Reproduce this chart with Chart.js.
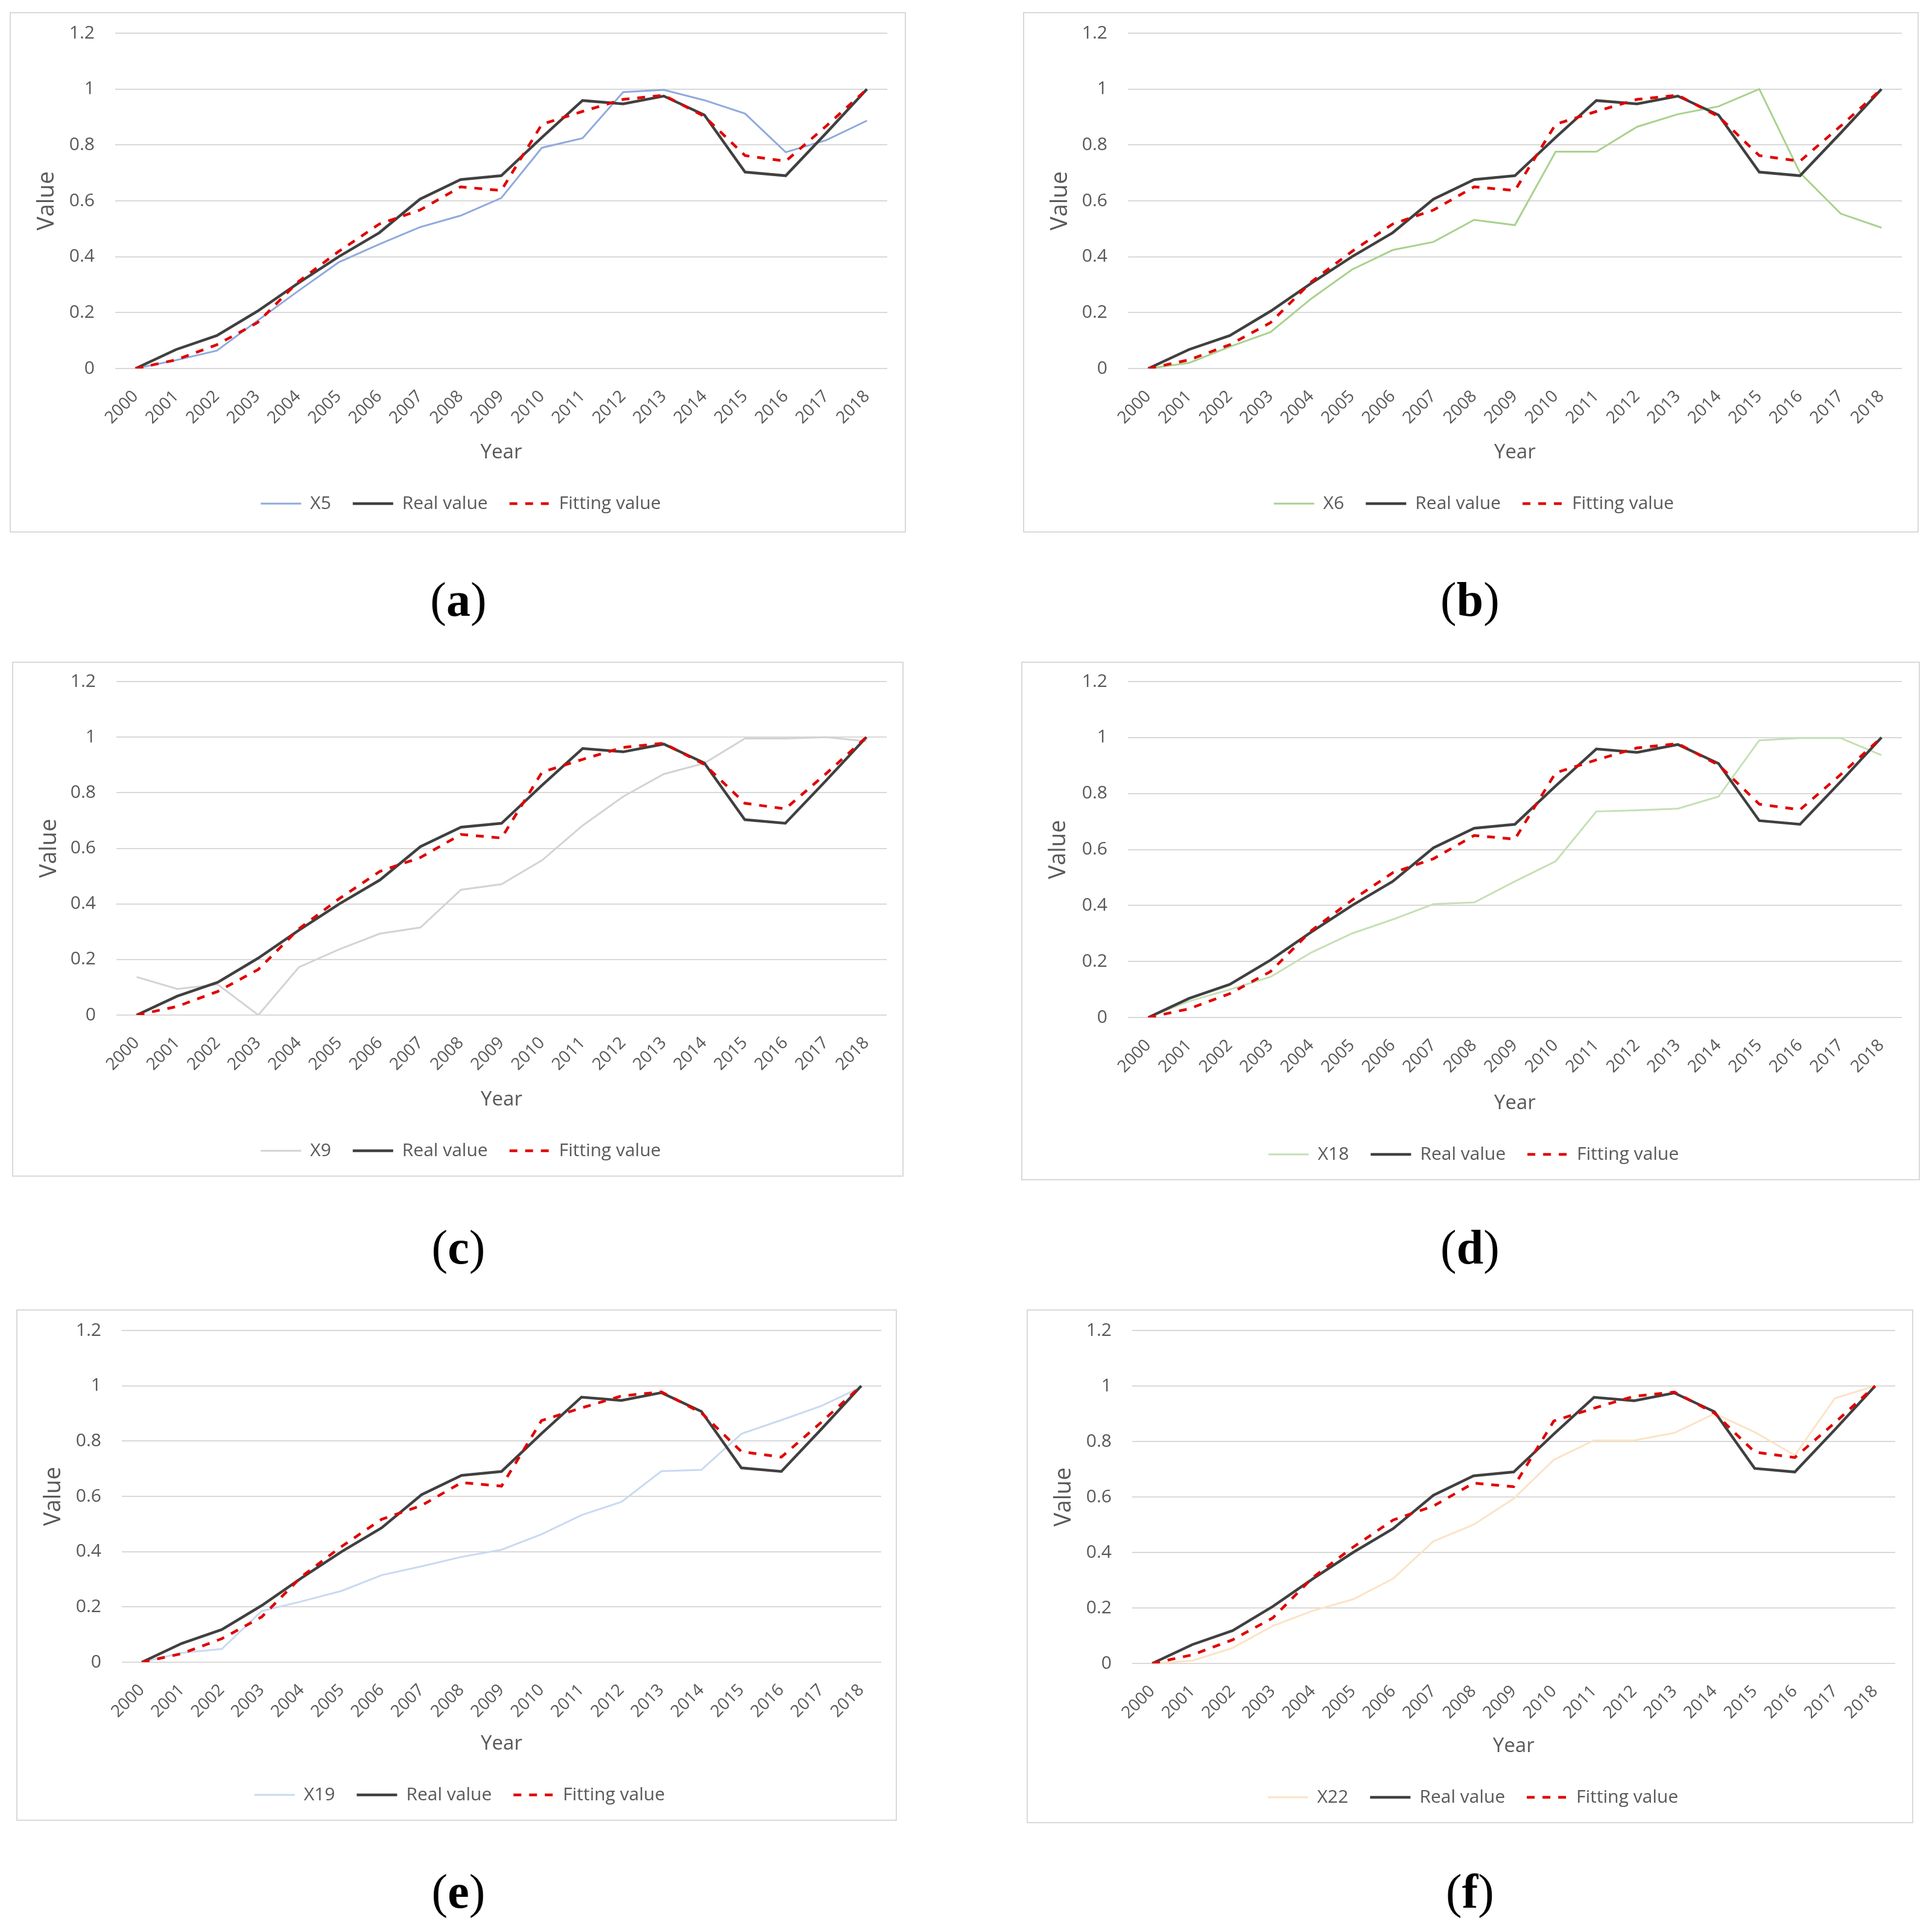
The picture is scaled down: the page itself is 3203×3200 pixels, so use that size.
<!DOCTYPE html>
<html>
<head>
<meta charset="utf-8">
<script src="https://cdn.jsdelivr.net/npm/chart.js@4.4.1/dist/chart.umd.min.js"></script>
<style>
  html, body { margin: 0; padding: 0; background: #fff; }
  #page { position: relative; width: 3203px; height: 3200px; background: #fff; overflow: hidden; }
  .panel { position: absolute; box-sizing: border-box; border: 2px solid #d9d9d9; background: #fff; }
  .panel canvas { position: absolute; left: 0; top: 0; }
  .cap { position: absolute; font-family: 'Liberation Serif', 'Times New Roman', serif; font-size: 80px;
         color: #000; transform: translate(-50%, -50%); white-space: nowrap; line-height: 1; }
</style>
</head>
<body>
<div id="page"></div>
<script>
// ========================================
// DATA
// ========================================
const years = ['2000', '2001', '2002', '2003', '2004', '2005', '2006', '2007', '2008', '2009',
               '2010', '2011', '2012', '2013', '2014', '2015', '2016', '2017', '2018'];

// same in every panel
const realValue    = [0, 0.068, 0.118, 0.205, 0.305, 0.40, 0.486, 0.606, 0.676, 0.69,
                      0.827, 0.959, 0.947, 0.975, 0.907, 0.703, 0.69, 0.843, 1.0];
const fittingValue = [0, 0.031, 0.085, 0.164, 0.31, 0.419, 0.517, 0.567, 0.65, 0.637,
                      0.874, 0.92, 0.963, 0.978, 0.902, 0.762, 0.742, 0.868, 1.0];

const x5  = [0, 0.03, 0.064, 0.171, 0.277, 0.38, 0.445, 0.506, 0.547, 0.61,
             0.79, 0.824, 0.989, 0.997, 0.96, 0.912, 0.774, 0.817, 0.887];
const x6  = [0, 0.02, 0.078, 0.13, 0.25, 0.354, 0.424, 0.453, 0.532, 0.513,
             0.776, 0.776, 0.865, 0.91, 0.938, 1.0, 0.70, 0.554, 0.504];
const x9  = [0.137, 0.094, 0.11, 0, 0.172, 0.237, 0.293, 0.315, 0.451, 0.471,
             0.557, 0.682, 0.786, 0.867, 0.906, 0.995, 0.995, 1.0, 0.985];
const x18 = [0, 0.058, 0.10, 0.145, 0.232, 0.30, 0.35, 0.405, 0.411, 0.486,
             0.558, 0.736, 0.74, 0.746, 0.789, 0.99, 0.998, 0.998, 0.937];
const x19 = [0, 0.034, 0.048, 0.185, 0.22, 0.258, 0.315, 0.347, 0.381, 0.407,
             0.463, 0.532, 0.58, 0.691, 0.696, 0.826, 0.876, 0.927, 0.995];
const x22 = [0, 0.01, 0.056, 0.135, 0.19, 0.231, 0.306, 0.44, 0.50, 0.594,
             0.734, 0.804, 0.804, 0.831, 0.90, 0.834, 0.75, 0.956, 1.0];

const seriesNames  = ['X5', 'X6', 'X9', 'X18', 'X19', 'X22'];
const seriesValues = [x5, x6, x9, x18, x19, x22];
const seriesColors = ['#8faadc', '#a9d18e', '#d3d3d3', '#c5e0b4', '#c9d9f1', '#fbe3c6'];
const captions     = ['a', 'b', 'c', 'd', 'e', 'f'];

// ========================================
// LAYOUT (panel boxes and inner offsets, px)
// ========================================
const panelBoxes = [
    { x: 16,   y: 20,   w: 1486, h: 863, top: 35, plotH: 556, left: 175, right: 31, bottom: 21 },
    { x: 1696, y: 20,   w: 1485, h: 863, top: 35, plotH: 556, left: 174, right: 28, bottom: 21 },
    { x: 20,   y: 1097, w: 1478, h: 854, top: 33, plotH: 553, left: 173, right: 28, bottom: 16 },
    { x: 1693, y: 1097, w: 1490, h: 860, top: 33, plotH: 557, left: 177, right: 30, bottom: 16 },
    { x: 27,   y: 2171, w: 1460, h: 848, top: 35, plotH: 550, left: 175, right: 26, bottom: 16 },
    { x: 1702, y: 2171, w: 1470, h: 852, top: 35, plotH: 552, left: 175, right: 30, bottom: 16 }
];
const captionPos = [
    { x: 760, y: 994 }, { x: 2437, y: 994 },
    { x: 760, y: 2068 }, { x: 2437, y: 2068 },
    { x: 760, y: 3136 }, { x: 2437, y: 3136 }
];

const FONT = "'Open Sans', 'Liberation Sans', sans-serif";
const TEXT_COLOR = '#595959';
const LEGEND_PAD = 36;
const LEGEND_FONT = 30;

// legend samples show the dataset's own dash pattern
function legendLabels(chart) {
    const items = Chart.defaults.plugins.legend.labels.generateLabels(chart);
    items.forEach(function(item) {
        const ds = chart.data.datasets[item.datasetIndex];
        item.lineDash = ds.borderDash || [];
        item.lineWidth = ds.borderWidth;
        item.strokeStyle = ds.borderColor;
    });
    return items;
}

// ========================================
// BUILD ONE PANEL
// ========================================
function makePanel(i) {
    const p = panelBoxes[i];
    const page = document.getElementById('page');

    const div = document.createElement('div');
    div.className = 'panel';
    div.style.left = p.x + 'px';
    div.style.top = p.y + 'px';
    div.style.width = p.w + 'px';
    div.style.height = p.h + 'px';

    const canvas = document.createElement('canvas');
    canvas.width = p.w - 4;
    canvas.height = p.h - 4;
    canvas.style.width = (p.w - 4) + 'px';
    canvas.style.height = (p.h - 4) + 'px';
    div.appendChild(canvas);
    page.appendChild(div);

    // canvas sits inside a 2px border
    const padTop = p.top - 2;
    const legendH = LEGEND_FONT + LEGEND_PAD + 10;
    const xAxisH = (p.h - 4) - padTop - p.plotH - legendH - p.bottom;
    const legendShift = p.right / 2 + 4;

    new Chart(canvas, {
        type: 'line',
        data: {
            labels: years,
            datasets: [
                {
                    label: seriesNames[i],
                    data: seriesValues[i],
                    borderColor: seriesColors[i],
                    backgroundColor: seriesColors[i],
                    borderWidth: 3,
                    order: 3
                },
                {
                    label: 'Real value',
                    data: realValue,
                    borderColor: '#404040',
                    backgroundColor: '#404040',
                    borderWidth: 4.5,
                    order: 2
                },
                {
                    label: 'Fitting value',
                    data: fittingValue,
                    borderColor: '#e00000',
                    backgroundColor: '#e00000',
                    borderWidth: 4.5,
                    borderDash: [13, 13],
                    order: 1
                }
            ]
        },
        options: {
            responsive: false,
            animation: false,
            devicePixelRatio: 1,
            elements: {
                point: { radius: 0, hoverRadius: 0 },
                line: { tension: 0, fill: false }
            },
            layout: {
                padding: { top: padTop, right: p.right - 2, bottom: p.bottom, left: 0 }
            },
            plugins: {
                legend: {
                    position: 'bottom',
                    labels: {
                        usePointStyle: true,
                        pointStyle: 'line',
                        pointStyleWidth: 67,
                        padding: LEGEND_PAD,
                        color: TEXT_COLOR,
                        font: { family: FONT, size: LEGEND_FONT },
                        generateLabels: legendLabels,
                        sort: (a, b) => a.datasetIndex - b.datasetIndex
                    }
                },
                tooltip: { enabled: false }
            },
            scales: {
                x: {
                    offset: true,
                    grid: { display: false },
                    border: { display: false },
                    ticks: {
                        autoSkip: false,
                        minRotation: 45,
                        maxRotation: 45,
                        padding: 22,
                        color: TEXT_COLOR,
                        font: { family: FONT, size: 28 }
                    },
                    title: {
                        display: true,
                        text: 'Year',
                        color: TEXT_COLOR,
                        font: { family: FONT, size: 33 },
                        padding: { top: 0, bottom: 14 }
                    },
                    afterFit: function(scale) { scale.height = xAxisH; }
                },
                y: {
                    min: 0,
                    max: 1.2,
                    ticks: {
                        stepSize: 0.2,
                        padding: 4,
                        color: TEXT_COLOR,
                        font: { family: FONT, size: 30 },
                        callback: function(value) { return String(Math.round(value * 10) / 10); }
                    },
                    grid: {
                        color: '#d9d9d9',
                        lineWidth: 2,
                        drawTicks: true,
                        tickLength: 30,
                        tickColor: 'rgba(0,0,0,0)'
                    },
                    border: { display: false },
                    title: {
                        display: true,
                        text: 'Value',
                        color: TEXT_COLOR,
                        font: { family: FONT, size: 38 },
                        padding: { top: 37, bottom: 0 }
                    },
                    afterFit: function(scale) { scale.width = p.left - 2; }
                }
            }
        },
        plugins: [{
            id: 'legendShift',
            afterLayout: function(chart) {
                chart.legend.left += legendShift;
                chart.legend.right += legendShift;
            }
        }]
    });

    const cap = document.createElement('div');
    cap.className = 'cap';
    cap.style.left = captionPos[i].x + 'px';
    cap.style.top = captionPos[i].y + 'px';
    cap.appendChild(document.createTextNode('('));
    const b = document.createElement('b');
    b.textContent = captions[i];
    cap.appendChild(b);
    cap.appendChild(document.createTextNode(')'));
    page.appendChild(cap);
}

for (let i = 0; i < panelBoxes.length; i++) {
    makePanel(i);
}
</script>
</body>
</html>
